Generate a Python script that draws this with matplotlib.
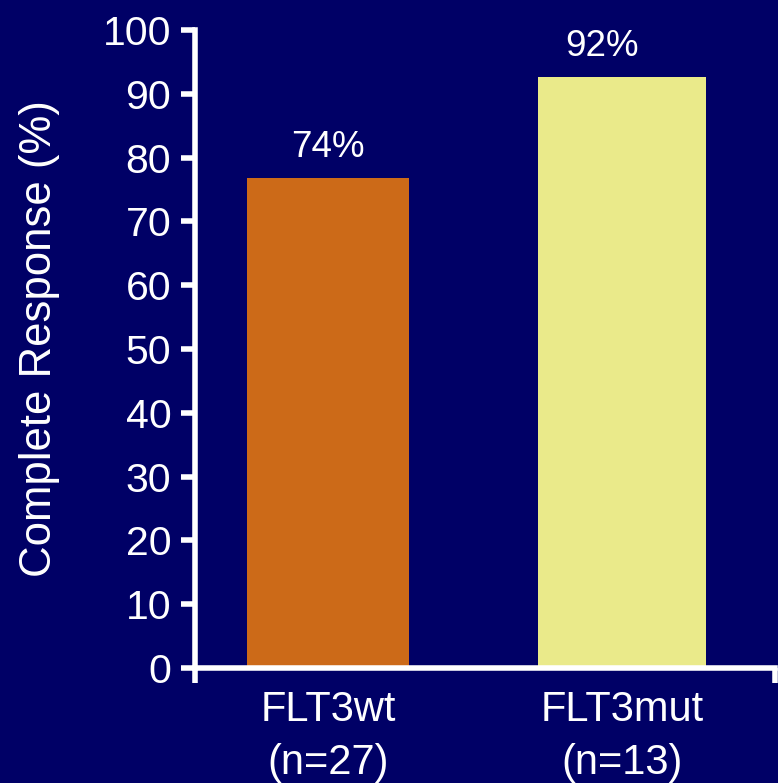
import matplotlib
matplotlib.use("Agg")
import matplotlib.pyplot as plt

categories = ["FLT3wt\n(n=27)", "FLT3mut\n(n=13)"]
values = [76.8, 92.6]
value_labels = ["74%", "92%"]
bar_colors = ["#CC6A18", "#EAEA8A"]
yticks = [0, 10, 20, 30, 40, 50, 60, 70, 80, 90, 100]

bg = "#000066"
plt.rcParams['font.family'] = ['Liberation Sans', 'DejaVu Sans']

fig = plt.figure(figsize=(7.78, 7.83), dpi=100, facecolor=bg)
ax = fig.add_axes([0.2506, 0.1469, 0.7455, 0.8148])
ax.set_facecolor(bg)

x = list(range(len(categories)))
widths = [0.55, 0.57]
ax.bar(x, values, width=widths, color=bar_colors, zorder=2)

ax.set_xlim(-0.452, 1.52)
ax.set_ylim(0, 100)
ax.set_yticks(yticks)
ax.set_yticklabels([str(t) for t in yticks], fontsize=29.5, color="white")
ax.set_xticks(x)
ax.set_xticklabels(categories, fontsize=30, color="white", linespacing=1.42)
ax.tick_params(axis='x', which='major', length=0, pad=16)
ax.set_xticks([-0.452, 1.52], minor=True)
ax.tick_params(axis='x', which='minor', length=10.5, width=4, color="white", direction='out')
ax.tick_params(axis='y', length=10, width=4, color="white", direction='out', pad=7)

for s in ['top', 'right']:
    ax.spines[s].set_visible(False)
for s in ['left', 'bottom']:
    ax.spines[s].set_color("white")
    ax.spines[s].set_linewidth(4)

offsets = [0.0, -0.068]
for xi, v, lab, off in zip(x, values, value_labels, offsets):
    ax.annotate(lab, (xi + off, v), xytext=(0, 15), textcoords='offset points',
                ha='center', va='baseline', fontsize=26.5, color="white")

ax.set_ylabel("Complete Response (%)", fontsize=31.5, color="white")
ax.yaxis.set_label_coords(-0.233, 0.517)

fig.savefig("out.png", dpi=100, facecolor=bg)
